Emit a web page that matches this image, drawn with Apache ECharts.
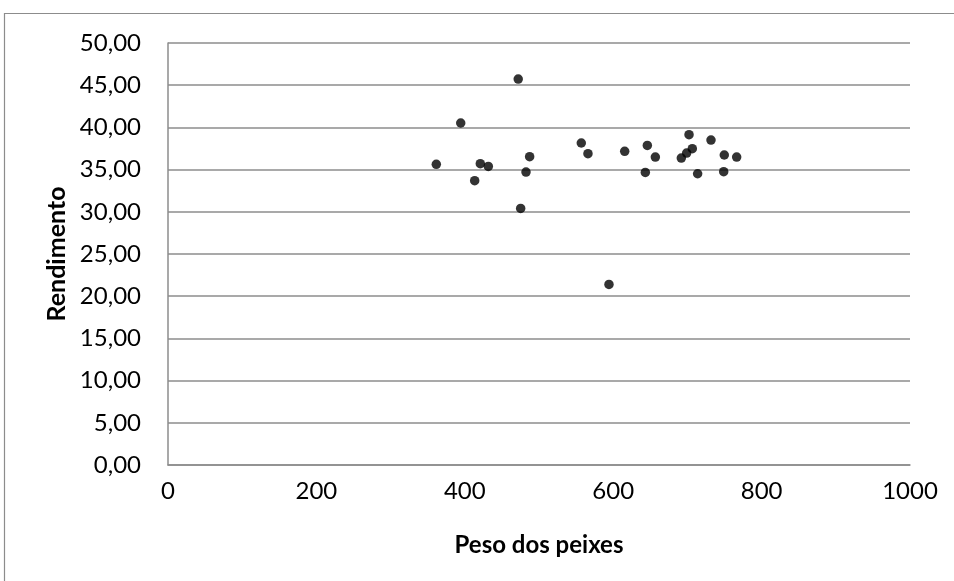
<!DOCTYPE html>
<html>
<head>
<meta charset="utf-8">
<script src="https://cdn.jsdelivr.net/npm/echarts@6/dist/echarts.min.js"></script>
<style>
  html, body { margin: 0; padding: 0; background: #fff; }
  #chart { width: 954px; height: 581px; }
</style>
</head>
<body>
<div id="chart"></div>
<script>
// Fish weight (g) against yield (%)
const peso = [472, 394.5, 361.6, 420.9, 431.7, 413.3, 487.4, 482.5, 475.3,
              557, 566, 615.5, 646, 656.8, 643.3, 702.2, 706.6, 699, 691.8,
              713.8, 731.8, 749.7, 748.9, 766.4, 594.3];
const rendimento = [45.73, 40.52, 35.62, 35.70, 35.38, 33.69, 36.53, 34.71, 30.40,
                    38.15, 36.88, 37.16, 37.87, 36.49, 34.67, 39.14, 37.48, 36.96, 36.37,
                    34.51, 38.50, 36.73, 34.75, 36.49, 21.40];
const xTitle = 'Peso dos peixes';
const yTitle = 'Rendimento';

const points = peso.map((p, i) => [p, rendimento[i]]);
const font = 'Lato, "Open Sans", sans-serif';

const chart = echarts.init(document.getElementById('chart'), null, { renderer: 'canvas' });
chart.setOption({
  animation: false,
  backgroundColor: '#ffffff',
  graphic: [{
    type: 'polyline',
    shape: { points: [[4.5, 600], [4.5, 13.5], [960, 13.5]] },
    style: { stroke: '#8c8c8c', lineWidth: 1.2, fill: null }
  }],
  grid: { left: 168, right: 44, top: 43, bottom: 116, containLabel: false },
  xAxis: {
    type: 'value', min: 0, max: 1000, interval: 200,
    name: xTitle, nameLocation: 'middle', nameGap: 68,
    nameTextStyle: { fontFamily: font, fontSize: 24, fontWeight: 'bold', color: '#000' },
    axisLine: { show: true, lineStyle: { color: '#8c8c8c', width: 1.5 } },
    axisTick: { show: false },
    axisLabel: { fontFamily: font, fontSize: 24, color: '#000', margin: 14,
      formatter: v => String(v) },
    splitLine: { show: false }
  },
  yAxis: {
    type: 'value', min: 0, max: 50, interval: 5,
    name: yTitle, nameLocation: 'middle', nameGap: 89, nameRotate: 90,
    nameTextStyle: { fontFamily: font, fontSize: 25, fontWeight: 'bold', color: '#000' },
    axisLine: { show: true, lineStyle: { color: '#8c8c8c', width: 1.5 } },
    axisTick: { show: false },
    axisLabel: {
      fontFamily: font, fontSize: 24, color: '#000', margin: 27,
      formatter: v => v.toFixed(2).replace('.', ',')
    },
    splitLine: { show: true, lineStyle: { color: '#8c8c8c', width: 1.5 } }
  },
  series: [{
    type: 'scatter',
    data: points,
    symbol: 'circle',
    symbolSize: 9.5,
    itemStyle: { color: '#000' }
  }]
});
</script>
</body>
</html>
